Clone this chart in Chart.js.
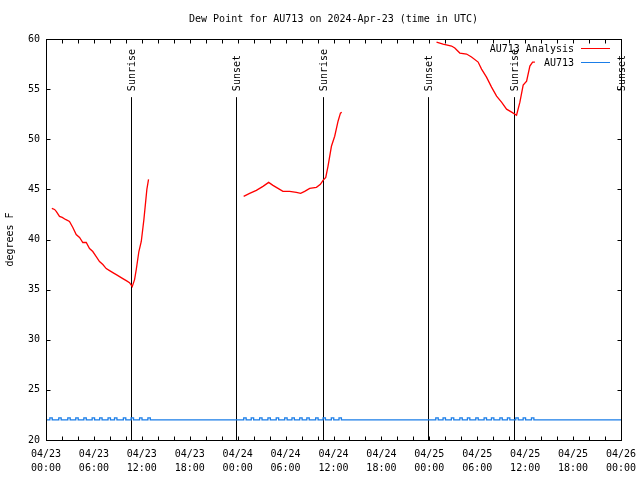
<!DOCTYPE html>
<html>
<head>
<meta charset="utf-8">
<script src="https://cdn.jsdelivr.net/npm/chart.js@4.4.1/dist/chart.umd.min.js"></script>
<style>
  html, body { margin: 0; padding: 0; background: #fff; }
</style>
</head>
<body>
<canvas id="chart" width="640" height="480"></canvas>
<script>
const titleText = "Dew Point for AU713 on 2024-Apr-23 (time in UTC)";
const yAxisTitle = "degrees F";

// x values are hours since 04/23 00:00 UTC
const xTickLabels = [
  ["04/23", "00:00"], ["04/23", "06:00"], ["04/23", "12:00"], ["04/23", "18:00"],
  ["04/24", "00:00"], ["04/24", "06:00"], ["04/24", "12:00"], ["04/24", "18:00"],
  ["04/25", "00:00"], ["04/25", "06:00"], ["04/25", "12:00"], ["04/25", "18:00"],
  ["04/26", "00:00"]
];

// sunrise / sunset markers
const sunHours = [10.6, 23.75, 34.65, 47.8, 58.6, 71.95];
const sunLabels = ["Sunrise", "Sunset", "Sunrise", "Sunset", "Sunrise", "Sunset"];

// AU713 Analysis (red), three pieces
const redHours1 = [0.73, 1.07, 1.28, 1.69, 2.03, 2.44, 2.94, 3.36, 3.78, 4.20, 4.61, 5.04, 5.45, 5.86, 6.29, 6.70, 7.12,
  7.54, 7.96, 8.37, 8.80, 9.21, 9.62, 10.05, 10.46, 10.80, 11.09, 11.30, 11.63, 11.93, 12.26, 12.47, 12.63, 12.84];
const redValues1 = [43.1, 43.0, 42.8, 42.3, 42.2, 42.0, 41.8, 41.2, 40.5, 40.2, 39.7, 39.7, 39.1, 38.8, 38.3, 37.8, 37.5,
  37.1, 36.9, 36.7, 36.5, 36.3, 36.1, 35.9, 35.7, 35.3, 36.0, 37.0, 38.8, 39.8, 42.0, 43.7, 45.0, 46.0];

const redHours2 = [24.75, 25.50, 26.34, 27.17, 27.88, 28.42, 29.05, 29.67, 30.51, 31.35, 31.89, 32.39, 33.02, 33.86,
  34.36, 34.69, 35.03, 35.31, 35.74, 36.15, 36.57, 36.87, 37.03];
const redValues2 = [44.3, 44.6, 44.9, 45.3, 45.7, 45.4, 45.1, 44.8, 44.8, 44.7, 44.6, 44.8, 45.1, 45.2,
  45.5, 45.9, 46.2, 47.3, 49.3, 50.3, 51.8, 52.6, 52.7];

const redHours3 = [48.90, 49.72, 50.78, 51.19, 51.82, 52.66, 53.28, 54.11, 54.54, 55.16, 55.79, 56.42, 57.04, 57.67,
  58.30, 58.92, 59.34, 59.75, 60.18, 60.59, 60.93, 61.22];
const redValues3 = [59.7, 59.5, 59.3, 59.1, 58.6, 58.5, 58.2, 57.7, 57.0, 56.2, 55.2, 54.3, 53.7, 53.0,
  52.7, 52.4, 53.7, 55.4, 55.8, 57.3, 57.7, 57.7];

// AU713 obs (blue): flat at 22.0 with small blips to 22.2 (start, end hours)
const blueBase = 22.0;
const bluePeak = 22.2;
const blueBumps = [
  [0.48, 0.78], [1.60, 1.90], [2.73, 3.03], [3.73, 4.03], [4.74, 5.04], [5.78, 6.08], [6.72, 7.02],
  [7.77, 8.07], [8.58, 8.88], [9.69, 9.99], [10.66, 10.96], [11.72, 12.02], [12.76, 13.06],
  [24.76, 25.06], [25.70, 26.00], [26.75, 27.05], [27.79, 28.09], [28.83, 29.13], [29.89, 30.19], [30.80, 31.10],
  [31.77, 32.07], [32.66, 32.96], [33.77, 34.07], [34.69, 34.99], [35.73, 36.03], [36.69, 36.99],
  [48.81, 49.11], [49.72, 50.02], [50.76, 51.06], [51.82, 52.12], [52.77, 53.07], [53.82, 54.12], [54.86, 55.16],
  [55.78, 56.08], [56.83, 57.13], [57.78, 58.08], [58.83, 59.13], [59.75, 60.05], [60.79, 61.09]
];

const RED = "#ff0000";
const BLUE = "#1a7de8";
const FONT = '10px "DejaVu Sans Mono", monospace';

function toPoints(hours, values) {
  return hours.map((h, i) => ({ x: h, y: values[i] }));
}

const redData = [
  ...toPoints(redHours1, redValues1), { x: 18, y: null },
  ...toPoints(redHours2, redValues2), { x: 42, y: null },
  ...toPoints(redHours3, redValues3)
];

const blueData = [{ x: 0, y: blueBase }];
blueBumps.forEach(b => {
  blueData.push({ x: b[0], y: bluePeak });
  blueData.push({ x: b[1], y: blueBase });
});
blueData.push({ x: 72, y: blueBase });

// sunrise/sunset lines, drawn under the data
const sunPlugin = {
  id: "sun",
  beforeDatasetsDraw(chart) {
    const { ctx, scales: { x, y } } = chart;
    ctx.save();
    ctx.strokeStyle = "#000";
    ctx.fillStyle = "#000";
    ctx.lineWidth = 1;
    ctx.font = FONT;
    const top = y.getPixelForValue(54.2);
    sunHours.forEach((h, i) => {
      const px = Math.round(x.getPixelForValue(h)) + 0.5;
      ctx.beginPath();
      ctx.moveTo(px, y.getPixelForValue(20));
      ctx.lineTo(px, top);
      ctx.stroke();
      ctx.save();
      ctx.translate(px + 1, top - 6);
      ctx.rotate(-Math.PI / 2);
      ctx.textAlign = "left";
      ctx.textBaseline = "middle";
      ctx.fillText(sunLabels[i], 0, 0);
      ctx.restore();
    });
    ctx.restore();
  }
};

// box, inward ticks, title and legend
const framePlugin = {
  id: "frame",
  afterDraw(chart) {
    const { ctx, chartArea: a, scales: { x, y } } = chart;
    ctx.save();
    ctx.strokeStyle = "#000";
    ctx.lineWidth = 1;
    const l = Math.round(a.left) + 0.5, r = Math.round(a.right) + 0.5;
    const t = Math.round(a.top) + 0.5, b = Math.round(a.bottom) + 0.5;
    ctx.strokeRect(l, t, r - l, b - t);
    ctx.beginPath();
    for (let h = 0; h <= 72; h += 2) {
      const px = Math.round(x.getPixelForValue(h)) + 0.5;
      ctx.moveTo(px, b); ctx.lineTo(px, b - 4);
      ctx.moveTo(px, t); ctx.lineTo(px, t + 4);
    }
    for (let v = 20; v <= 60; v += 5) {
      const py = Math.round(y.getPixelForValue(v)) + 0.5;
      ctx.moveTo(l, py); ctx.lineTo(l + 4, py);
      ctx.moveTo(r, py); ctx.lineTo(r - 4, py);
    }
    ctx.stroke();

    ctx.font = FONT;
    ctx.fillStyle = "#000";
    ctx.textAlign = "center";
    ctx.textBaseline = "middle";
    ctx.fillText(titleText, (a.left + a.right) / 2, 19);

    const legendColors = [RED, BLUE];
    ctx.textAlign = "right";
    chart.data.datasets.forEach((ds, i) => {
      const ly = Math.round(a.top + 9 + i * 14) + 0.5;
      ctx.fillStyle = "#000";
      ctx.fillText(ds.label, a.right - 47, ly + 1);
      ctx.strokeStyle = legendColors[i];
      ctx.beginPath();
      ctx.moveTo(a.right - 40, ly);
      ctx.lineTo(a.right - 11, ly);
      ctx.stroke();
    });
    ctx.restore();
  }
};

new Chart(document.getElementById("chart"), {
  type: "line",
  data: {
    datasets: [
      {
        label: "AU713 Analysis",
        data: redData,
        borderColor: RED,
        borderWidth: 1.3,
        pointRadius: 0,
        spanGaps: false,
        tension: 0
      },
      {
        label: "AU713",
        data: blueData,
        borderColor: BLUE,
        borderWidth: 1.3,
        pointRadius: 0,
        stepped: "before"
      }
    ]
  },
  options: {
    responsive: false,
    animation: false,
    layout: { padding: { top: 39, right: 19, left: 0, bottom: 0 } },
    plugins: {
      legend: { display: false },
      title: { display: false },
      tooltip: { enabled: false }
    },
    scales: {
      x: {
        type: "linear",
        min: 0,
        max: 72,
        grid: { display: false, drawTicks: false },
        border: { display: false },
        afterFit: s => { s.height = 40; s.paddingLeft = 0; s.paddingRight = 0; },
        ticks: {
          stepSize: 6,
          autoSkip: false,
          maxRotation: 0,
          padding: 7,
          color: "#000",
          font: { family: '"DejaVu Sans Mono", monospace', size: 10, lineHeight: 1.4 },
          callback: v => xTickLabels[Math.round(v / 6)]
        }
      },
      y: {
        min: 20,
        max: 60,
        grid: { display: false, drawTicks: false },
        border: { display: false },
        afterFit: s => { s.width = 46; },
        title: {
          display: true,
          text: yAxisTitle,
          color: "#000",
          font: { family: '"DejaVu Sans Mono", monospace', size: 10 },
          padding: { top: 4, bottom: 0 }
        },
        ticks: {
          stepSize: 5,
          padding: 6,
          color: "#000",
          font: { family: '"DejaVu Sans Mono", monospace', size: 10 }
        }
      }
    }
  },
  plugins: [sunPlugin, framePlugin]
});
</script>
</body>
</html>
